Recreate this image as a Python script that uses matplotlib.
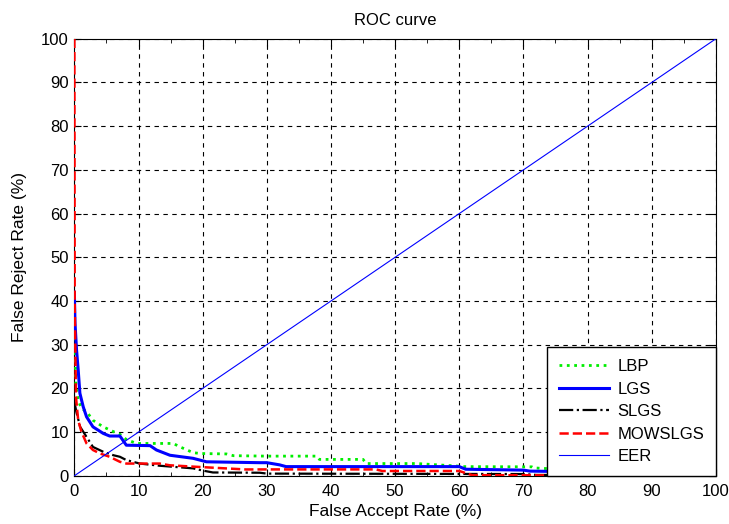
import matplotlib
matplotlib.use("Agg")
import matplotlib.pyplot as plt
from matplotlib.ticker import MultipleLocator

plt.rcParams['font.family'] = ['Liberation Sans', 'DejaVu Sans']

# ROC data (FAR %, FRR %)
far_lbp = [0, 0.25, 0.6, 1.1, 1.9, 2.9, 4.5, 6.1, 7.1, 8.1, 9.7, 15.4, 16.5, 18.5,
           19.6, 23.7, 24.8, 30, 37.8, 38.2, 45, 45.5, 53.4, 60, 60.5, 71.3, 71.6, 80, 100]
frr_lbp = [35, 20.4, 17.3, 15.4, 14.7, 12.7, 11.2, 10.1, 9.5, 8.3, 7.4, 7.4, 6.6, 5.3,
           5.1, 5.0, 4.6, 4.5, 4.5, 3.75, 3.75, 2.8, 2.8, 2.2, 2.1, 2.05, 1.8, 1.2, 0.3]

far_lgs = [0, 0.1, 0.34, 0.6, 0.86, 1.38, 1.9, 2.9, 4.5, 5.5, 7.1, 8.1, 11.8, 12.8,
           14.9, 18.5, 20.6, 28.9, 30, 32, 33, 60, 61, 70, 71, 100]
frr_lgs = [42, 35, 28.8, 24.2, 18.9, 15.8, 13.5, 11.2, 9.7, 9.1, 9.1, 7.0, 6.9, 5.9,
           4.7, 4.0, 3.2, 3.0, 3.0, 2.5, 2.1, 2.1, 1.5, 1.3, 1.07, 0.5]

far_slgs = [0, 0.3, 0.9, 1.9, 2.9, 4.5, 6.1, 7.1, 8.1, 10.2, 13.3, 18.5, 20.0, 21.6,
            28.9, 30, 70, 72, 100]
frr_slgs = [17, 14.7, 11.2, 8.9, 6.6, 5.5, 4.7, 4.35, 3.6, 2.8, 2.3, 1.7, 1.2, 0.76,
            0.7, 0.5, 0.4, 0.2, 0.0]

far_mow = [0, 0.05, 0.25, 0.6, 1.1, 1.9, 2.9, 4.0, 5.5, 7.1, 8.1, 13.3, 14.9, 18.5,
           21.0, 26.7, 30, 47, 48, 60, 62, 100]
frr_mow = [100, 40, 18, 12.7, 10.1, 7.4, 5.9, 5.1, 4.35, 3.2, 2.8, 2.8, 2.4, 2.1,
           1.9, 1.45, 1.46, 1.46, 1.1, 1.1, 0.15, 0.0]

eer_x = [0, 100]
eer_y = [0, 100]

fig = plt.figure(figsize=(7.29, 5.24), dpi=100)
ax = fig.add_axes([0.102, 0.092, 0.88, 0.834])

ax.plot(far_lbp, frr_lbp, color='#00ee00', linestyle=':', lw=2, label='LBP', zorder=3)
ax.plot(far_lgs, frr_lgs, color='#0000ff', linestyle='-', lw=2.2, label='LGS', zorder=3)
ax.plot(far_slgs, frr_slgs, color='black', linestyle='-.', lw=1.6, label='SLGS', zorder=3)
ax.plot(far_mow, frr_mow, color='#ff0000', linestyle='--', lw=1.8, label='MOWSLGS', zorder=3)
ax.plot(eer_x, eer_y, color='#0000ff', lw=0.8, label='EER', zorder=3)

ax.set_xlim(0, 100)
ax.set_ylim(0, 100)
ax.xaxis.set_major_locator(MultipleLocator(10))
ax.xaxis.set_minor_locator(MultipleLocator(5))
ax.yaxis.set_major_locator(MultipleLocator(10))
ax.tick_params(which='both', direction='in', top=True, right=True, labelsize=12)
ax.tick_params(which='major', length=5)
ax.tick_params(which='minor', length=3)
ax.tick_params(axis='x', which='major', pad=6)
ax.tick_params(axis='y', which='major', pad=4)
ax.grid(True, which='major', color='black', linestyle=(0, (4, 4)), lw=0.8)

ax.set_title('ROC curve', fontsize=12, pad=10)
ax.set_xlabel('False Accept Rate (%)', fontsize=12.5, va='center')
ax.set_ylabel('False Reject Rate (%)', fontsize=12.5, va='center')
ax.xaxis.set_label_coords(0.5, -0.082)
ax.yaxis.set_label_coords(-0.085, 0.5)

leg = ax.legend(loc='lower right', fontsize=12, fancybox=False, framealpha=1,
                edgecolor='black', borderaxespad=0, handlelength=3.0,
                handletextpad=0.5, labelspacing=0.45, borderpad=0.7)
leg.get_frame().set_linewidth(1)
leg.set_zorder(5)

fig.savefig('out.png', dpi=100)
